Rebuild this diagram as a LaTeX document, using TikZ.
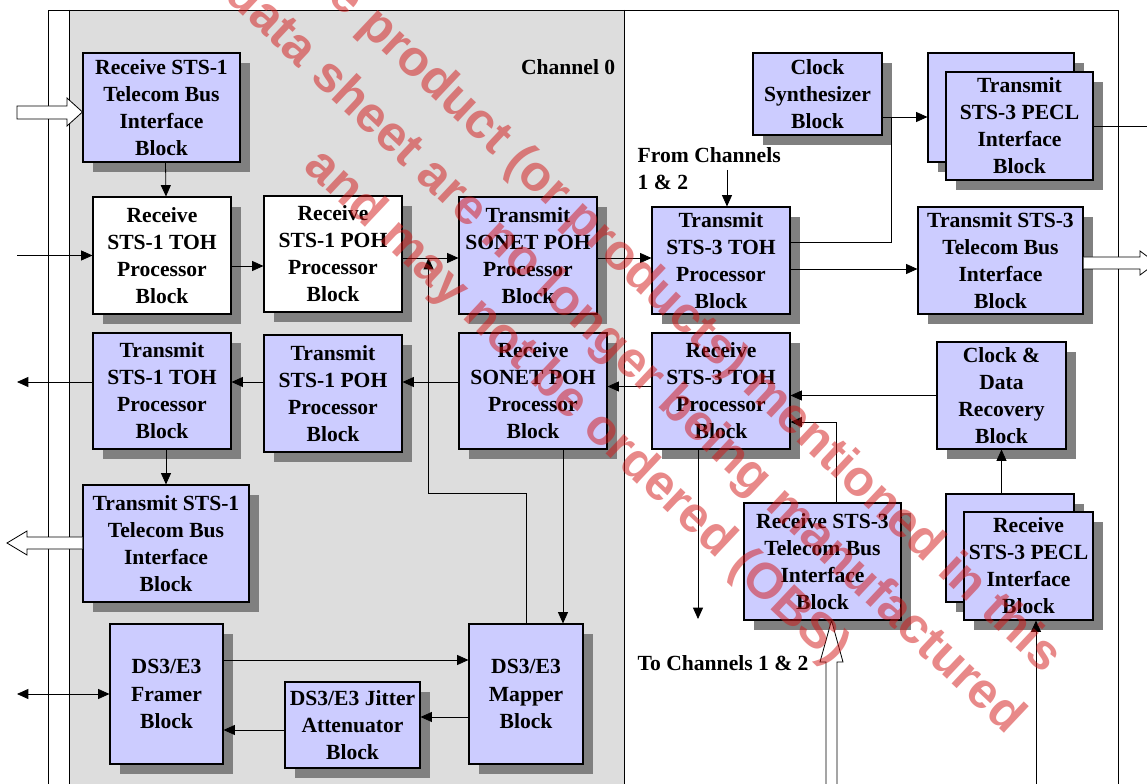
\documentclass[tikz,border=0pt]{standalone}
\usepackage{fontspec}
\setmainfont{Liberation Serif}
\newfontfamily\wmfont{Liberation Sans}
\usetikzlibrary{arrows.meta,calc,positioning,shadows}

\definecolor{blkfill}{RGB}{204,204,255}
\definecolor{chanfill}{RGB}{221,221,221}
\definecolor{shadowgray}{RGB}{128,128,128}
\definecolor{wmred}{RGB}{210,20,20}

\begin{document}
\begin{tikzpicture}[x=0.75pt,y=-0.75pt,
  font=\fontsize{16.2}{20.3}\selectfont\bfseries,
  >={Triangle[length=8.5pt,width=7.5pt]},
  blk/.style={draw,line width=0.8pt,fill=blkfill,align=center,inner sep=0pt,
              drop shadow={shadow xshift=7.5pt,shadow yshift=-7.5pt,
                           fill=shadowgray,opacity=1}},
  wblk/.style={blk,fill=white},
  sz/.style 2 args={minimum width=#1*0.75pt,minimum height=#2*0.75pt},
  wire/.style={line width=0.6pt},
  link/.style={wire,->},
  fat/.style={draw,line width=0.6pt,fill=white},
  wmark/.style={font=\wmfont\bfseries\fontsize{37.7}{52.5}\selectfont,text=wmred,
                text opacity=0.5,align=center}
]
  \useasboundingbox (0,0) rectangle (1147,784);
  \clip (0,0) rectangle (1147,784);

  % device outline and channel 0 panel
  \fill[chanfill] (69,10) rectangle (624,800);
  \draw[wire] (48,800) -- (48,10) -- (1118,10) -- (1118,800);
  \draw[wire] (69,10) -- (69,800);
  \draw[wire] (624,10) -- (624,800);
  \node[anchor=east] (ch0) at (620,67) {Channel 0};

  % top row
  \node[blk,sz={157}{109}] (rxtb1) at (161.5,107.5) {Receive STS-1\\Telecom Bus\\Interface\\Block};
  \node[wblk,sz={138}{117}] (rxtoh1) at (162,255.5) {Receive\\STS-1 TOH\\Processor\\Block};
  \node[wblk,sz={138}{116}] (rxpoh1) at (333,254) {Receive\\STS-1 POH\\Processor\\Block};
  \node[blk,sz={138}{117}] (txspoh) at (528,255.5) {Transmit\\SONET POH\\Processor\\Block};
  \node[blk,sz={138}{107}] (txtoh3) at (721,260.5) {Transmit\\STS-3 TOH\\Processor\\Block};
  \node[blk,sz={129}{82}] (clksyn) at (817.5,94) {Clock\\Synthesizer\\Block};
  \node[blk,sz={146}{109}] (txpeclb) at (1001,107.5) {};
  \node[blk,sz={147}{108}] (txpecl) at (1019.5,126) {Transmit\\STS-3 PECL\\Interface\\Block};
  \node[blk,sz={165}{107}] (txtb3) at (1000.5,260.5) {Transmit STS-3\\Telecom Bus\\Interface\\Block};

  % second row
  \node[blk,sz={138}{116}] (txtoh1) at (162,391) {Transmit\\STS-1 TOH\\Processor\\Block};
  \node[blk,sz={138}{117}] (txpoh1) at (333,393.5) {Transmit\\STS-1 POH\\Processor\\Block};
  \node[blk,sz={148}{116}] (rxspoh) at (533,391) {Receive\\SONET POH\\Processor\\Block};
  \node[blk,sz={138}{116}] (rxtoh3) at (721,391) {Receive\\STS-3 TOH\\Processor\\Block};
  \node[blk,sz={129}{107}] (cdr) at (1001.5,395.5) {Clock \&\\Data\\Recovery\\Block};

  % third row
  \node[blk,sz={166}{117}] (txtb1) at (166,543.5) {Transmit STS-1\\Telecom Bus\\Interface\\Block};
  \node[blk,sz={157}{117}] (rxtb3) at (822.5,561.5) {Receive STS-3\\Telecom Bus\\Interface\\Block};
  \node[blk,sz={128}{108}] (rxpeclb) at (1010,548) {};
  \node[blk,sz={129}{108}] (rxpecl) at (1028.5,566) {Receive\\STS-3 PECL\\Interface\\Block};

  % DS3/E3 row
  \node[blk,sz={113}{140}] (framer) at (166.5,694) {DS3/E3\\Framer\\Block};
  \node[blk,sz={135}{86}] (jitter) at (352.5,725) {DS3/E3 Jitter\\Attenuator\\Block};
  \node[blk,sz={114}{140}] (mapper) at (526,694) {DS3/E3\\Mapper\\Block};

  \node[anchor=west,align=left] (fromlbl) at (633,169) {From Channels\\1 \& 2};
  \node[anchor=west] (tolbl) at (633,663) {To Channels 1 \& 2};

  % receive path
  \draw[fat] (17,106) -- (67,106) -- (67,98) -- (rxtb1.west |- 0,112)
    -- (67,126) -- (67,119) -- (17,119) -- cycle;
  \coordinate (inrx) at (17,255.5);
  \draw[link] (inrx) -- (rxtoh1.west);
  \draw[link] ($(rxtb1.south)+(4,0)$) -- ($(rxtoh1.north)+(4,0)$);
  \draw[link] ($(rxtoh1.east)+(0,10.5)$) -- ($(rxpoh1.west |- rxtoh1.east)+(0,10.5)$);
  \draw[link] ($(rxpoh1.east |- txspoh.west)+(0,2.5)$) -- ($(txspoh.west)+(0,2.5)$);
  \coordinate (mjoin) at ($(rxpoh1.east |- txspoh.west)+(26,2.5)$);
  \draw[link] (mapper.north) |- ($(mjoin)+(0,235)$) -- (mjoin);
  \draw[link] ($(txspoh.east)+(0,2.5)$) -- ($(txtoh3.west |- txspoh.east)+(0,2.5)$);
  \coordinate (fromch) at (727,170);
  \draw[link] (fromch) -- (fromch |- txtoh3.north);
  \coordinate (pjoin) at (891,117);
  \draw[wire] ($(txtoh3.east)+(0,-18.5)$) -| (pjoin);
  \draw[link] (clksyn.east |- pjoin) -- (txpeclb.west |- pjoin);
  \draw[link] ($(txtoh3.east)+(0,8.5)$) -- ($(txtb3.west |- txtoh3.east)+(0,8.5)$);
  \draw[link] (txpecl.east) -- ++(70,0);
  \draw[fat] (txtb3.east |- 0,257) -- (1140,257) -- (1140,251) -- (1156,263)
    -- (1140,275) -- (1140,269) -- (txtb3.east |- 0,269);

  % transmit path
  \coordinate (outtx) at (17,382);
  \draw[link] ($(txtoh1.west)+(0,-9)$) -- (outtx);
  \draw[link] ($(txpoh1.west)+(0,-11.5)$) -- ($(txtoh1.east |- txpoh1.west)+(0,-11.5)$);
  \draw[link] ($(rxspoh.west)+(0,-9)$) -- ($(txpoh1.east |- rxspoh.west)+(0,-9)$);
  \draw[link] ($(rxtoh3.west)+(0,-4.5)$) -- ($(rxspoh.east |- rxtoh3.west)+(0,-4.5)$);
  \draw[link] (cdr.west) -- (rxtoh3.east |- cdr.west);
  \draw[link] (rxtb3.north -| 836,0) |- ($(rxtoh3.east)+(0,31)$);
  \draw[link] (rxpeclb.north -| cdr.south) -- (cdr.south);
  \coordinate (toch) at (698,619);
  \draw[link] (rxtoh3.south -| toch) -- (toch);
  \draw[link] (rxspoh.south -| 563,0) -- (mapper.north -| 563,0);
  \draw[link] (txtoh1.south -| txtb1.north) -- (txtb1.north);
  \draw[fat] (txtb1.west |- 0,537) -- (27,537) -- (27,531) -- (7,543)
    -- (27,555) -- (27,549) -- (txtb1.west |- 0,549);
  \draw[fat] (826,800) -- (826,662) -- (820,662) -- (rxtb3.south -| 831.5,0)
    -- (843,662) -- (837,662) -- (837,800);
  \draw[link] (1036,800) -- (rxpecl.south -| 1036,0);

  % DS3/E3 side
  \coordinate (frio) at (17,694);
  \draw[wire,<->] (frio) -- (framer.west);
  \draw[link] ($(framer.east)+(0,-34)$) -- ($(mapper.west |- framer.east)+(0,-34)$);
  \draw[link] ($(mapper.west)+(0,23)$) -- ($(jitter.east |- mapper.west)+(0,23)$);
  \draw[link] ($(jitter.west)+(0,5)$) -- ($(framer.east |- jitter.west)+(0,5)$);

  % watermark
  \node[wmark,rotate=-43.3] (wm) at (624,357)
    {The product (or products) mentioned in this\\data sheet are no longer being manufactured\\and may not be ordered (OBS)};
\end{tikzpicture}
\end{document}
